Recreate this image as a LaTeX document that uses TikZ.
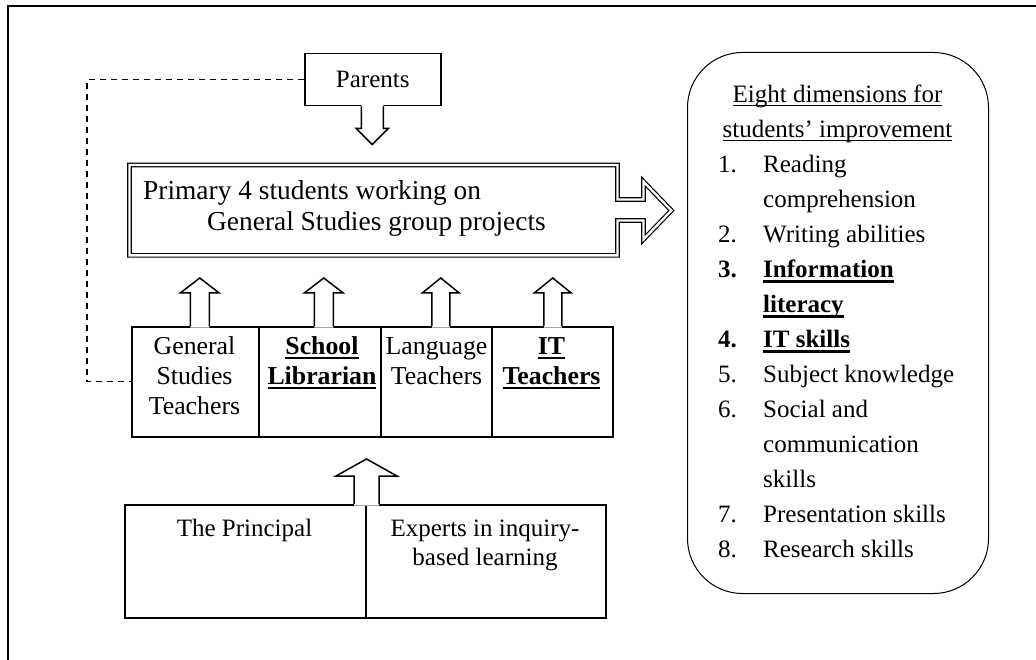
\documentclass[tikz,border=0pt]{standalone}
\usepackage{fontspec}
\setmainfont{Liberation Serif}
\usetikzlibrary{calc}
\newcommand\myul[1]{\setbox0=\hbox{#1}\rlap{\rule[-3.6pt]{\wd0}{1.2pt}}\box0}
\newcommand\myulb[1]{\setbox0=\hbox{#1}\rlap{\rule[-5pt]{\wd0}{2.3pt}}\box0}
\newcommand\stack[1]{\begin{tabular}[t]{@{}c@{}}#1\end{tabular}}
% block arrow pointing up: #1 base coord, #2 shaft half width, #3 head half width, #4 shaft length, #5 head length
\newcommand\uparr[5]{%
  \fill[white] ($#1+(-#2,1.5)$) -- ++(0,-#4-1.5) -- ++(-#3+#2,0) -- ++(#3,-#5) -- ++(#3,#5) -- ++(-#3+#2,0) -- ++(0,#4+1.5) -- cycle;
  \draw[blockarrow] ($#1+(-#2,0)$) -- ++(0,-#4) -- ++(-#3+#2,0) -- ++(#3,-#5) -- ++(#3,#5) -- ++(-#3+#2,0) -- ++(0,#4);}
\newcommand\downarr[5]{%
  \fill[white] ($#1+(-#2,-1.5)$) -- ++(0,#4+1.5) -- ++(-#3+#2,0) -- ++(#3,#5) -- ++(#3,-#5) -- ++(-#3+#2,0) -- ++(0,-#4-1.5) -- cycle;
  \draw[blockarrow] ($#1+(-#2,0)$) -- ++(0,#4) -- ++(-#3+#2,0) -- ++(#3,#5) -- ++(#3,-#5) -- ++(-#3+#2,0) -- ++(0,-#4);}
\tikzset{
  box/.style={draw, line width=1.5pt, inner sep=0pt, anchor=north west, fill=white},
  txt/.style={anchor=base, inner sep=0pt, font={\fontsize{25}{30}\selectfont}},
  ttxt/.style={anchor=base, inner sep=0pt, font={\fontsize{25.8}{30}\selectfont}},
  blockarrow/.style={line width=1.5pt, line join=miter},
  dbl/.style={draw, line width=1.2pt, double=white, double distance=2.3pt, line join=miter},
  dashlink/.style={line width=1.3pt, dash pattern=on 6pt off 5pt},
}
\begin{document}
\begin{tikzpicture}[x=1pt,y=-1pt]
\useasboundingbox (0,0) rectangle (1036,660);
% outer frame (only top and left edges visible)
\draw[line width=1.8pt] (8,664) -- (8,6) -- (1040,6);

% Parents
\node[box, minimum width=136pt, minimum height=52pt, font={\fontsize{25}{30}\selectfont}] (parents) at (304,53) {Parents};

% Students block arrow
\node[inner sep=0pt, anchor=north west, minimum width=487.5pt, minimum height=90pt] (students) at (129.5,165) {};
\draw[dbl] (students.north west) -- (students.north east) -- ++(0,34.5) -- ++(26,0) -- ++(0,-18) -- ++(28,29) -- ++(-28,29) -- ++(0,-19) -- ++(-26,0) -- (students.south east) -- (students.south west) -- cycle;
\node[anchor=base west, inner sep=0pt, font={\fontsize{27.4}{30.5}\selectfont}] (studtxt) at (143,200)
  {\begin{tabular}[t]{@{}l@{}}Primary 4 students working on\\\hspace*{64pt}General Studies group projects\end{tabular}};

% Teacher boxes
\node[box, minimum width=127pt, minimum height=110pt] (gst) at (131,326) {};
\node[box, minimum width=122pt, minimum height=110pt] (lib) at (258,326) {};
\node[box, minimum width=111pt, minimum height=110pt] (lang) at (380,326) {};
\node[box, minimum width=121pt, minimum height=110pt] (itt) at (491,326) {};
\node[ttxt] (gsttxt) at (194.5,354) {\stack{General\\Studies\\Teachers}};
\node[ttxt] (libtxt) at (322,354) {\stack{\myulb{\textbf{School}}\\\myulb{\textbf{Librarian}}}};
\node[ttxt] (langtxt) at (436.5,354) {\stack{Language\\Teachers}};
\node[ttxt] (itttxt) at (551.5,354) {\stack{\myulb{\textbf{IT}}\\\myulb{\textbf{Teachers}}}};

% Principal / experts
\node[box, minimum width=241pt, minimum height=113pt] (prin) at (124,504) {};
\node[box, minimum width=240pt, minimum height=113pt] (exp) at (365,504) {};
\node[txt] (printxt) at (244.5,536.7) {The Principal};
\node[txt, font={\fontsize{25}{29}\selectfont}] (exptxt) at (485,536.7) {\stack{Experts in inquiry-\\based learning}};

% block arrows
\coordinate (a1) at ($(gst.north)+(4.5,0)$);
\coordinate (a2) at ($(lib.north)+(4,0)$);
\coordinate (a3) at ($(lang.north)+(4.5,0)$);
\coordinate (a4) at ($(itt.north)+(0.5,0)$);
\uparr{(a1)}{9.5}{19.5}{33}{15}
\uparr{(a2)}{9.5}{19.5}{33}{15}
\uparr{(a3)}{9}{18.5}{33}{15}
\uparr{(a4)}{9}{18.5}{33}{15}
\uparr{(prin.north east)}{12.5}{30.5}{28}{17}
\coordinate (pa) at ($(parents.south)+(-0.5,0)$);
\downarr{(pa)}{11}{16}{22}{16}

% dashed link parents -> general studies teachers
\draw[dashlink] (parents.west) -- ++(-217,0) |- (gst.west);

% Eight dimensions box
\node[draw, line width=1pt, rounded corners=55pt, minimum width=301pt, minimum height=541pt, anchor=north west, inner sep=0pt] (dims) at (687,52) {};
\node[txt, font={\fontsize{25}{35}\selectfont}] (dimtitle) at (837.5,102.7) {\stack{\myul{Eight dimensions for}\\\myul{students’ improvement}}};
\node[anchor=base west, inner sep=0pt, font={\fontsize{25}{35}\selectfont}] (dimlist) at (718,172.7)
 {\begin{tabular}[t]{@{}p{45pt}@{}l@{}}
 1. & Reading\\
    & comprehension\\
 2. & Writing abilities\\
 \textbf{3.} & \myulb{\textbf{Information}}\\
    & \myulb{\textbf{literacy}}\\
 \textbf{4.} & \myulb{\textbf{IT skills}}\\
 5. & Subject knowledge\\
 6. & Social and\\
    & communication\\
    & skills\\
 7. & Presentation skills\\
 8. & Research skills
 \end{tabular}};
\end{tikzpicture}
\end{document}
